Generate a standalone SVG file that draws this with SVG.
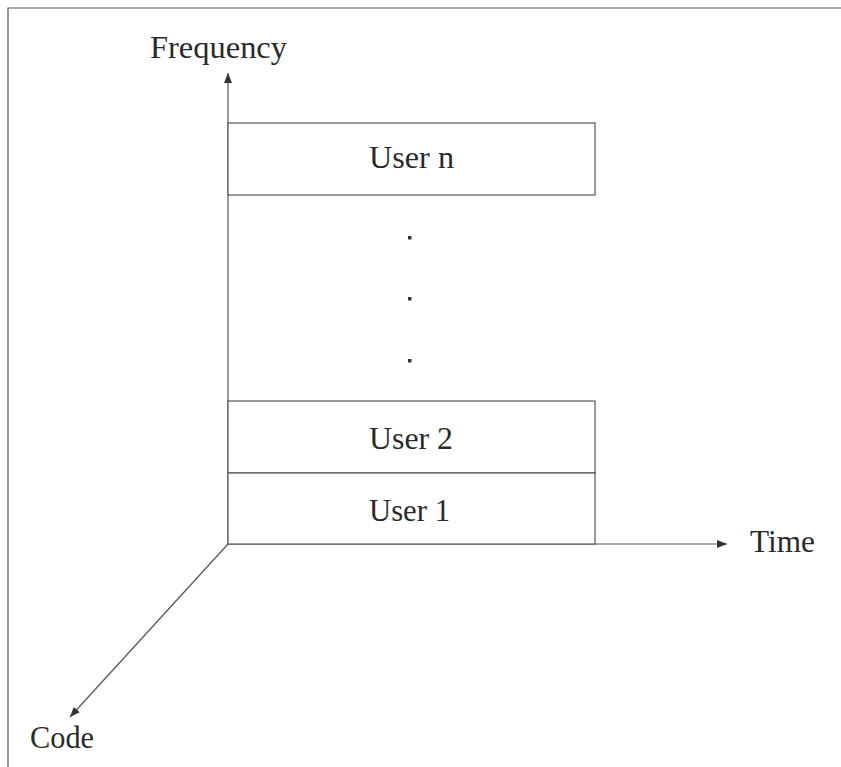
<svg xmlns="http://www.w3.org/2000/svg" width="841" height="767" viewBox="0 0 841 767">
<style>
text{font-family:"Liberation Serif","Times New Roman",serif;font-size:32px;fill:#2a2a2a}
.ln{stroke:#555;stroke-width:1.2;fill:none}
.box{stroke:#555;stroke-width:1.2;fill:#fff}
</style>
<defs>
<marker id="ah" viewBox="0 0 10 8" refX="10" refY="4" markerWidth="10" markerHeight="8" markerUnits="userSpaceOnUse" orient="auto">
<path d="M0,0 L10,4 L0,8 Z" fill="#333"/>
</marker>
</defs>
<rect width="841" height="767" fill="#fff"/>
<path class="ln" d="M8,767 V8 H841"/>
<g id="connectors">
<line class="ln" x1="228" y1="544" x2="228" y2="73" marker-end="url(#ah)"/>
<line class="ln" x1="228" y1="544" x2="727" y2="544" marker-end="url(#ah)"/>
<line class="ln" x1="228" y1="544" x2="70" y2="717" marker-end="url(#ah)"/>
</g>
<g id="user-n">
<rect class="box" x="228" y="123" width="367" height="72"/>
<text x="369" y="168" textLength="85" lengthAdjust="spacingAndGlyphs">User n</text>
</g>
<g id="dots" fill="#333">
<rect x="408" y="236" width="3.5" height="3.5"/>
<rect x="408" y="297" width="3.5" height="3.5"/>
<rect x="408" y="359" width="3.5" height="3.5"/>
</g>
<g id="user-2">
<rect class="box" x="228" y="401" width="367" height="72"/>
<text x="369" y="449" textLength="84" lengthAdjust="spacingAndGlyphs">User 2</text>
</g>
<g id="user-1">
<rect class="box" x="228" y="473" width="367" height="71"/>
<text x="369" y="521" textLength="81" lengthAdjust="spacingAndGlyphs">User 1</text>
</g>
<g id="labels">
<text x="150" y="58" textLength="137" lengthAdjust="spacingAndGlyphs">Frequency</text>
<text x="750" y="552" textLength="65" lengthAdjust="spacingAndGlyphs">Time</text>
<text x="30" y="748" textLength="64" lengthAdjust="spacingAndGlyphs">Code</text>
</g>
</svg>
